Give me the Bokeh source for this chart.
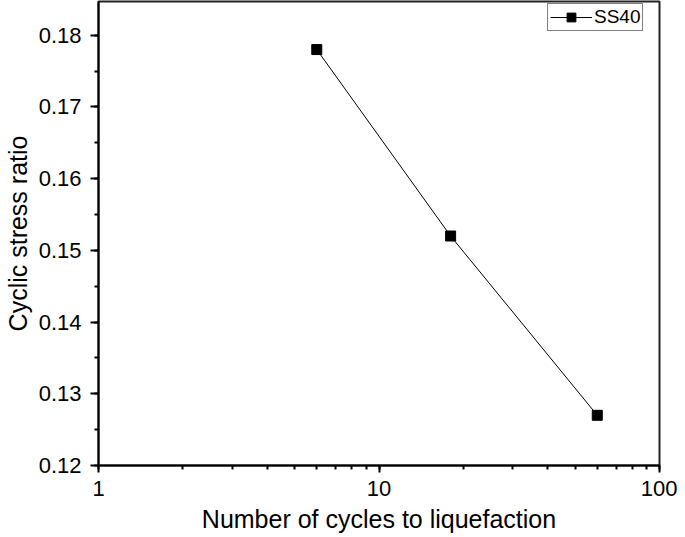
from bokeh.plotting import figure
from bokeh.models import (Range1d, SingleIntervalTicker, LogTicker, PrintfTickFormatter,
                          Legend, LegendItem)
from bokeh.embed import file_html
from bokeh.resources import INLINE

cycles = [6, 18, 60]
csr = [0.178, 0.152, 0.127]
series_name = "SS40"
x_label = "Number of cycles to liquefaction"
y_label = "Cyclic stress ratio"

FONT = "Liberation Sans"

p = figure(width=677, height=537, x_axis_type="log",
           x_range=Range1d(1, 100), y_range=Range1d(0.12, 0.1847),
           output_backend="svg", toolbar_location=None,
           min_border_left=90, min_border_right=18, min_border_top=1, min_border_bottom=72)

p.grid.visible = False
p.outline_line_color = "#222222"
p.outline_line_width = 2

ln = p.line(cycles, csr, line_color="black", line_width=1)
sc = p.scatter(cycles, csr, marker="square", size=10, fill_color="black", line_color="black")

# axes
for ax in (p.xaxis[0], p.yaxis[0]):
    ax.axis_line_width = 2
    ax.axis_line_color = "black"
    ax.major_tick_line_width = 2
    ax.minor_tick_line_width = 2
    ax.major_tick_in = 0
    ax.minor_tick_in = 0
    ax.major_label_text_font = FONT
    ax.major_label_text_font_size = "22px"
    ax.major_label_text_color = "black"
    ax.axis_label_text_font = FONT
    ax.axis_label_text_font_size = "25px"
    ax.axis_label_text_font_style = "normal"
    ax.axis_label_text_color = "black"

p.yaxis[0].ticker = SingleIntervalTicker(interval=0.01, num_minor_ticks=2)
p.yaxis[0].major_tick_out = 8
p.yaxis[0].minor_tick_out = 4
p.yaxis[0].major_label_standoff = 9
p.yaxis[0].axis_label = y_label
p.yaxis[0].axis_label_standoff = 4

p.xaxis[0].ticker = LogTicker(num_minor_ticks=10)
p.xaxis[0].formatter = PrintfTickFormatter(format="%d")
p.xaxis[0].major_tick_out = 7
p.xaxis[0].minor_tick_out = 4
p.xaxis[0].major_label_standoff = 8
p.xaxis[0].axis_label = x_label
p.xaxis[0].axis_label_standoff = 6

legend = Legend(items=[LegendItem(label=series_name, renderers=[ln, sc])],
                location=(449, 434))
legend.label_text_font = FONT
legend.label_text_font_size = "19px"
legend.label_text_color = "black"
legend.border_line_color = "black"
legend.border_line_width = 1
legend.padding = 2
legend.spacing = 0
legend.glyph_width = 42
legend.glyph_height = 22
legend.label_standoff = 2
legend.label_height = 22
legend.background_fill_alpha = 1
legend.margin = 0
p.add_layout(legend, "center")

open("out.html", "w").write(file_html(p, INLINE))
